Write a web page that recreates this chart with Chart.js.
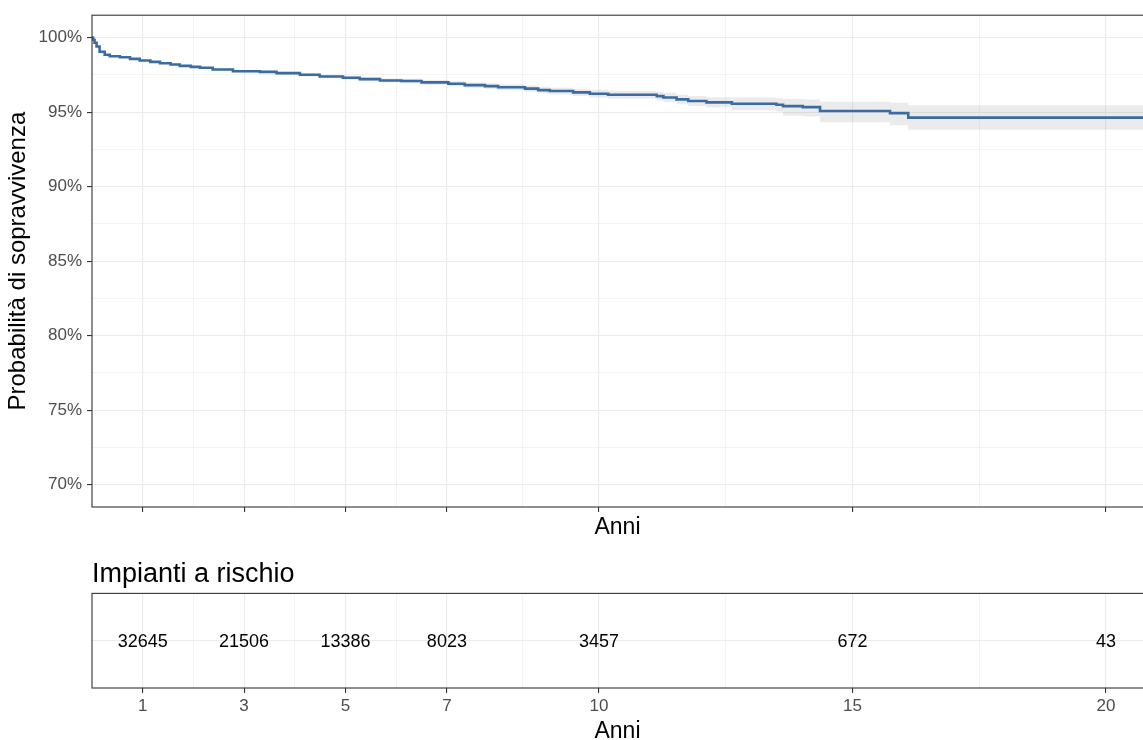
<!DOCTYPE html>
<html>
<head>
<meta charset="utf-8">
<script src="https://cdn.jsdelivr.net/npm/chart.js@4.4.1/dist/chart.umd.min.js"></script>
<style>
body { margin: 0; background: #fff; overflow: hidden; }
#top { position: absolute; left: 0; top: 0; width: 1143px; height: 545px; }
#bottom { position: absolute; left: 0; top: 545px; width: 1143px; height: 200px; }
</style>
</head>
<body>
<div id="top"><canvas id="km"></canvas></div>
<div id="bottom"><canvas id="risk"></canvas></div>
<script>
// Kaplan-Meier estimate (years, %)
const times = [0, 0.02, 0.05, 0.09, 0.15, 0.25, 0.35, 0.55, 0.75, 0.94, 1.15, 1.34, 1.55, 1.73, 1.95, 2.13, 2.38, 2.78, 3.31, 3.64, 4.1, 4.49, 4.95, 5.28, 5.68, 6.1, 6.5, 7.03, 7.35, 7.75, 8.01, 8.54, 8.8, 9.03, 9.49, 9.82, 10.18, 11.14, 11.27, 11.53, 11.76, 12.12, 12.62, 13.5, 13.63, 14.02, 14.36, 15.74, 16.1, 21];
const surv = [100, 99.85, 99.65, 99.4, 99.05, 98.85, 98.75, 98.68, 98.57, 98.46, 98.37, 98.28, 98.19, 98.1, 98.03, 97.97, 97.86, 97.74, 97.7, 97.61, 97.5, 97.39, 97.3, 97.21, 97.12, 97.08, 96.99, 96.9, 96.81, 96.74, 96.67, 96.57, 96.47, 96.41, 96.32, 96.23, 96.16, 96.07, 95.98, 95.85, 95.74, 95.65, 95.56, 95.49, 95.4, 95.33, 95.07, 94.93, 94.63, 94.63];
const upper = [100, 99.88, 99.68, 99.43, 99.08, 98.88, 98.78, 98.72, 98.61, 98.51, 98.42, 98.34, 98.25, 98.16, 98.1, 98.04, 97.94, 97.82, 97.79, 97.71, 97.61, 97.51, 97.43, 97.35, 97.26, 97.23, 97.15, 97.07, 96.99, 96.93, 96.87, 96.78, 96.69, 96.64, 96.57, 96.49, 96.43, 96.37, 96.29, 96.17, 96.08, 96.0, 95.98, 95.93, 95.88, 95.85, 95.7, 95.62, 95.45, 95.45];
const lower = [100, 99.82, 99.62, 99.37, 99.02, 98.82, 98.72, 98.64, 98.53, 98.41, 98.32, 98.22, 98.13, 98.04, 97.96, 97.9, 97.78, 97.66, 97.61, 97.51, 97.39, 97.27, 97.17, 97.07, 96.98, 96.93, 96.83, 96.73, 96.63, 96.55, 96.47, 96.36, 96.25, 96.18, 96.07, 95.97, 95.89, 95.77, 95.67, 95.53, 95.4, 95.3, 95.12, 95.02, 94.76, 94.7, 94.32, 94.12, 93.82, 93.82];

// risk table
const riskTimes = [1, 3, 5, 7, 10, 15, 20];
const atRisk = [32645, 21506, 13386, 8023, 3457, 672, 43];

// axis breaks
const xMajor = [1, 3, 5, 7, 10, 15, 20];
const xMinor = [2, 4, 6, 8.5, 12.5, 17.5];
const yMajor = [70, 75, 80, 85, 90, 95, 100];
const yMinor = [72.5, 77.5, 82.5, 87.5, 92.5, 97.5];

const FONT = "'Liberation Sans', Arial, sans-serif";
const X_MAX = 20.73;

const xTicks = xMajor.concat(xMinor).sort((a, b) => a - b);
const yTicks = yMajor.concat(yMinor).sort((a, b) => a - b);

const gridColor = "#ebebeb";
const isMajorX = (v) => xMajor.includes(v);
const isMajorY = (v) => yMajor.includes(v);

const panelBorder = {
	id: "panelBorder",
	afterDatasetsDraw(chart) {
		const { ctx, chartArea: a } = chart;
		ctx.save();
		ctx.strokeStyle = "#333333";
		ctx.lineWidth = 1.1;
		ctx.strokeRect(a.left, a.top, a.right - a.left + 6, a.bottom - a.top);
		ctx.restore();
	},
};

const riskLabels = {
	id: "riskLabels",
	afterDatasetsDraw(chart) {
		const { ctx, scales } = chart;
		ctx.save();
		ctx.font = "18px " + FONT;
		ctx.fillStyle = "#000";
		ctx.textAlign = "center";
		ctx.textBaseline = "middle";
		riskTimes.forEach((t, i) => {
			ctx.fillText(String(atRisk[i]), scales.x.getPixelForValue(t), scales.y.getPixelForValue(0) + 1.5);
		});
		ctx.restore();
	},
};

const xGrid = {
	color: gridColor,
	lineWidth: (c) => (isMajorX(c.tick.value) ? 1.1 : 0.6),
	tickColor: (c) => (isMajorX(c.tick.value) ? "#333333" : "rgba(0,0,0,0)"),
	tickLength: 5,
	tickWidth: 1.1,
};

new Chart(document.querySelector("#km"), {
	type: "line",
	data: {
		datasets: [
			{
				label: "Sopravvivenza",
				data: times.map((t, i) => ({ x: t, y: surv[i] })),
				borderColor: "#3a6ba3",
				borderWidth: 2.6,
				stepped: true,
				pointRadius: 0,
				fill: false,
			},
			{
				label: "lower",
				data: times.map((t, i) => ({ x: t, y: lower[i] })),
				borderWidth: 0,
				borderColor: "rgba(0,0,0,0)",
				stepped: true,
				pointRadius: 0,
				fill: false,
			},
			{
				label: "upper",
				data: times.map((t, i) => ({ x: t, y: upper[i] })),
				borderWidth: 0,
				borderColor: "rgba(0,0,0,0)",
				backgroundColor: "rgba(120,120,120,0.15)",
				stepped: true,
				pointRadius: 0,
				fill: "-1",
			},
		],
	},
	options: {
		responsive: true,
		maintainAspectRatio: false,
		animation: false,
		layout: { padding: { top: 13, right: 0, left: 0, bottom: 0 } },
		plugins: { legend: { display: false }, tooltip: { enabled: false } },
		scales: {
			x: {
				type: "linear",
				min: 0,
				max: X_MAX,
				afterBuildTicks: (s) => { s.ticks = xTicks.map((v) => ({ value: v })); },
				afterFit: (s) => { s.height = 38; },
				ticks: { display: false },
				grid: xGrid,
				border: { display: false },
				title: {
					display: true,
					text: "Anni",
					color: "#000",
					font: { family: FONT, size: 23 },
					padding: { top: 0, bottom: 4 },
				},
			},
			y: {
				min: 68.5,
				max: 101.5,
				afterBuildTicks: (s) => { s.ticks = yTicks.map((v) => ({ value: v })); },
				afterFit: (s) => { s.width = 92; },
				ticks: {
					color: "#4d4d4d",
					font: { family: FONT, size: 17 },
					padding: 5,
					callback: (v) => (isMajorY(v) ? v + "%" : ""),
				},
				grid: {
					color: gridColor,
					lineWidth: (c) => (isMajorY(c.tick.value) ? 1.1 : 0.6),
					tickColor: (c) => (isMajorY(c.tick.value) ? "#333333" : "rgba(0,0,0,0)"),
					tickLength: 5,
					tickWidth: 1.1,
				},
				border: { display: false },
				title: {
					display: true,
					text: "Probabilità di sopravvivenza",
					color: "#000",
					font: { family: FONT, size: 24 },
					padding: { top: 4, bottom: 0 },
				},
			},
		},
	},
	plugins: [panelBorder],
});

new Chart(document.querySelector("#risk"), {
	type: "scatter",
	data: {
		datasets: [
			{
				label: "Impianti a rischio",
				data: riskTimes.map((t) => ({ x: t, y: 0 })),
				pointRadius: 0,
			},
		],
	},
	options: {
		responsive: true,
		maintainAspectRatio: false,
		animation: false,
		layout: { padding: { top: 0, right: 0, left: 92, bottom: 0 } },
		plugins: {
			legend: { display: false },
			tooltip: { enabled: false },
			title: {
				display: true,
				text: "Impianti a rischio",
				align: "start",
				color: "#000",
				font: { family: FONT, size: 27, weight: "normal" },
				padding: { top: 13, bottom: 3 },
			},
		},
		scales: {
			x: {
				type: "linear",
				min: 0,
				max: X_MAX,
				afterBuildTicks: (s) => { s.ticks = xTicks.map((v) => ({ value: v })); },
				afterFit: (s) => { s.height = 57; },
				ticks: {
					color: "#4d4d4d",
					font: { family: FONT, size: 17 },
					padding: 3,
					autoSkip: false,
					maxRotation: 0,
					callback: (v) => (isMajorX(v) ? String(v) : ""),
				},
				grid: xGrid,
				border: { display: false },
				title: {
					display: true,
					text: "Anni",
					color: "#000",
					font: { family: FONT, size: 23 },
					padding: { top: 0, bottom: 0 },
				},
			},
			y: {
				min: -1,
				max: 1,
				afterBuildTicks: (s) => { s.ticks = [{ value: 0 }]; },
				afterFit: (s) => { s.width = 0; },
				ticks: { display: false },
				grid: { color: gridColor, lineWidth: 1.1, drawTicks: false },
				border: { display: false },
			},
		},
	},
	plugins: [panelBorder, riskLabels],
});
</script>
</body>
</html>
